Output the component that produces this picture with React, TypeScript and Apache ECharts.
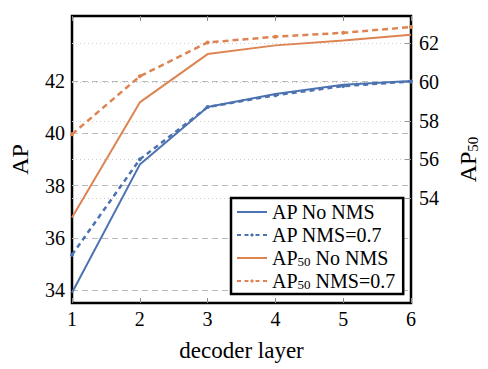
import React, { useEffect, useRef } from "react";
import * as echarts from "echarts";

const layers = [1, 2, 3, 4, 5, 6];
const apNoNms = [33.9, 38.8, 41.0, 41.5, 41.85, 42.0];
const apNms = [35.35, 39.0, 41.0, 41.45, 41.8, 41.98];
const ap50NoNms = [53.0, 58.95, 61.45, 61.9, 62.15, 62.45];
const ap50Nms = [57.3, 60.3, 62.05, 62.35, 62.55, 62.85];
const leftTicks = [34, 36, 38, 40, 42];
const rightTicks = [54, 56, 58, 60, 62];

const BLUE = "#4C72B0";
const ORANGE = "#DD8452";
const FONT = "'Liberation Serif', 'Times New Roman', 'DejaVu Serif', serif";

const legendLabels: Record<string, string> = {
  "AP No NMS": "{t|AP No NMS}",
  "AP NMS=0.7": "{t|AP NMS=0.7}",
  "AP50 No NMS": "{t|AP}{s|50}{t| No NMS}",
  "AP50 NMS=0.7": "{t|AP}{s|50}{t| NMS=0.7}",
};

const SOLID_ICON =
  "path://M0,2.1L30,2.1L30,3.9L0,3.9Z M0,0L0.01,0L0.01,0.01Z M0,6L0.01,6L0.01,5.99Z";
const DASH_ICON =
  "path://M0,2.1L4,2.1L4,3.9L0,3.9Z M7.5,2.1L11.5,2.1L11.5,3.9L7.5,3.9Z M15,1L17,3L15,5L13,3Z M18.5,2.1L22.5,2.1L22.5,3.9L18.5,3.9Z M26,2.1L30,2.1L30,3.9L26,3.9Z M0,0L0.01,0L0.01,0.01Z M0,6L0.01,6L0.01,5.99Z";

const tickRich = { n: { fontSize: 20, fontFamily: FONT, color: "#000" } };
const nameRich = {
  t: { fontSize: 24, fontFamily: FONT, color: "#000" },
  x: { fontSize: 23, fontFamily: FONT, color: "#000" },
  s: { fontSize: 15, fontFamily: FONT, color: "#000", padding: [10, 0, 0, 0] },
};
const fmtTick = (v: number) => `{n|${v}}`;

export default function App() {
  const ref = useRef<HTMLDivElement>(null);
  useEffect(() => {
    if (!ref.current) return;
    const chart = echarts.init(ref.current, null, { renderer: "svg" });
    const pairs = (ys: number[]) => layers.map((x, i) => [x, ys[i]]);
    chart.setOption({
      animation: false,
      textStyle: { fontFamily: FONT },
      grid: {
        left: 70,
        right: 72,
        top: 16,
        bottom: 66,
        show: true,
        borderColor: "#000",
        borderWidth: 2.5,
        backgroundColor: "transparent",
      },
      xAxis: [
        {
          type: "value",
          min: 1,
          max: 6,
          interval: 1,
          position: "bottom",
          axisLine: { show: false },
          axisTick: { show: true, inside: true, length: 5, lineStyle: { color: "#888" } },
          axisLabel: { formatter: fmtTick, rich: tickRich, margin: 6 },
          splitLine: { show: false },
          name: "{x|decoder layer}",
          nameLocation: "middle",
          nameGap: 36,
          nameTextStyle: { rich: nameRich },
        },
        {
          type: "value",
          min: 1,
          max: 6,
          interval: 1,
          position: "top",
          axisLine: { show: false },
          axisTick: { show: true, inside: true, length: 5, lineStyle: { color: "#888" } },
          axisLabel: { show: false },
          splitLine: { show: false },
        },
      ],
      yAxis: [
        {
          type: "value",
          min: 33.51,
          max: 44.48,
          position: "left",
          axisLine: { show: false },
          axisTick: { show: false, customValues: leftTicks },
          axisLabel: {
            customValues: leftTicks,
            formatter: fmtTick,
            rich: tickRich,
            margin: 7,
          },
          splitLine: {
            show: true,
            lineStyle: { color: "#bbb", type: [6, 4], width: 1 },
          },
          name: "{t|AP}",
          nameLocation: "middle",
          nameRotate: 90,
          nameGap: 40,
          nameTextStyle: { rich: nameRich },
        },
        {
          type: "value",
          min: 48.57,
          max: 63.42,
          position: "right",
          axisLine: { show: false },
          axisTick: {
            show: true,
            inside: true,
            length: 6,
            customValues: rightTicks,
            lineStyle: { color: "#999" },
          },
          axisLabel: {
            customValues: rightTicks,
            formatter: fmtTick,
            rich: tickRich,
            margin: 8,
          },
          splitLine: {
            show: true,
            lineStyle: { color: "#ccc", type: [1, 3], width: 1 },
          },
          name: "{t|AP}{s|50}",
          nameLocation: "middle",
          nameRotate: 90,
          nameGap: 44,
          nameTextStyle: { rich: nameRich },
        },
      ],
      legend: {
        left: 231,
        top: 198,
        orient: "vertical",
        backgroundColor: "#fff",
        borderColor: "#000",
        borderWidth: 2.5,
        borderRadius: 0,
        padding: [4, 8, 3, 6],
        itemWidth: 30,
        itemHeight: 6,
        itemGap: 3,
        formatter: (name: string) => legendLabels[name] || name,
        textStyle: {
          fontFamily: FONT,
          color: "#000",
          rich: {
            t: { fontSize: 20, fontFamily: FONT, color: "#000", lineHeight: 17 },
            s: { fontSize: 13, fontFamily: FONT, color: "#000", lineHeight: 10, padding: [7, 0, 0, 0] },
          },
        },
        data: [
          { name: "AP No NMS", icon: SOLID_ICON },
          { name: "AP NMS=0.7", icon: DASH_ICON },
          { name: "AP50 No NMS", icon: SOLID_ICON },
          { name: "AP50 NMS=0.7", icon: DASH_ICON },
        ],
      },
      series: [
        {
          name: "AP No NMS",
          type: "line",
          xAxisIndex: 0,
          yAxisIndex: 0,
          data: pairs(apNoNms),
          symbol: "none",
          lineStyle: { color: BLUE, width: 2 },
          itemStyle: { color: BLUE },
          z: 4,
        },
        {
          name: "AP NMS=0.7",
          type: "line",
          xAxisIndex: 0,
          yAxisIndex: 0,
          data: pairs(apNms),
          symbol: "circle",
          symbolSize: 4,
          lineStyle: { color: BLUE, width: 2.5, type: [5, 4] },
          itemStyle: { color: BLUE },
          z: 4,
        },
        {
          name: "AP50 No NMS",
          type: "line",
          xAxisIndex: 0,
          yAxisIndex: 1,
          data: pairs(ap50NoNms),
          symbol: "none",
          lineStyle: { color: ORANGE, width: 2 },
          itemStyle: { color: ORANGE },
          z: 4,
        },
        {
          name: "AP50 NMS=0.7",
          type: "line",
          xAxisIndex: 0,
          yAxisIndex: 1,
          data: pairs(ap50Nms),
          symbol: "circle",
          symbolSize: 4,
          lineStyle: { color: ORANGE, width: 2.5, type: [6, 4] },
          itemStyle: { color: ORANGE },
          z: 4,
        },
      ],
    });
    return () => chart.dispose();
  }, []);
  return <div ref={ref} style={{ width: 488, height: 369, position: "absolute", left: 0, top: 0 }} />;
}
